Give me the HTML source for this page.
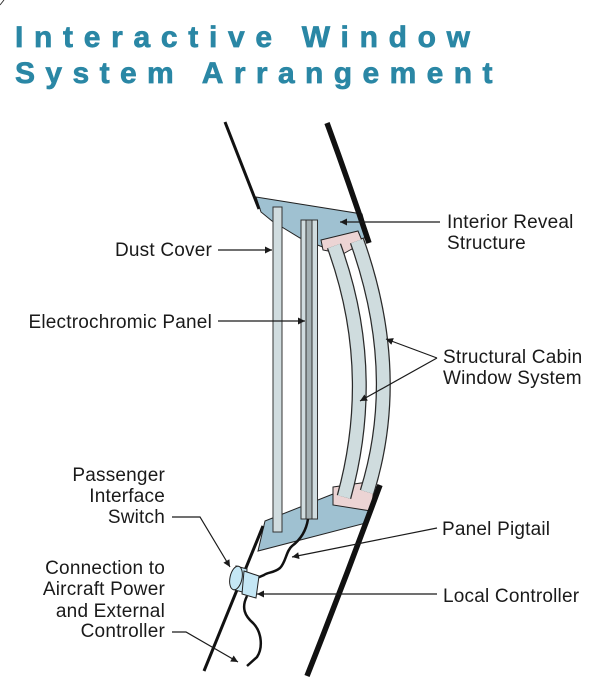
<!DOCTYPE html>
<html>
<head>
<meta charset="utf-8">
<style>
  html,body{margin:0;padding:0;background:#fff;}
  body{width:614px;height:696px;overflow:hidden;position:relative;}
  svg{position:absolute;left:0;top:0;}
  .t{font-family:"Liberation Sans",sans-serif;font-weight:bold;font-size:30px;fill:#2a87a5;stroke:#2a87a5;stroke-width:0.7px;}
  .l{font-family:"Liberation Sans",sans-serif;font-size:19px;fill:#1a1a1a;letter-spacing:0.2px;}
</style>
</head>
<body>
<svg width="614" height="696" viewBox="0 0 614 696" xmlns="http://www.w3.org/2000/svg">
  <defs>
    <marker id="ah" viewBox="0 0 10 10" refX="10" refY="5" markerWidth="9" markerHeight="7" markerUnits="userSpaceOnUse" orient="auto">
      <path d="M0,0 L10,5 L0,10 Z" fill="#1a1a1a"/>
    </marker>
  </defs>

  <!-- corner mark -->
  <line x1="0" y1="5" x2="4" y2="0" stroke="#333" stroke-width="1"/>

  <!-- Title -->
  <text class="t" x="15" y="47" style="letter-spacing:10.7px">Interactive Window</text>
  <text class="t" x="15" y="83" style="letter-spacing:10.4px">System Arrangement</text>

  <!-- top blue reveal -->
  <polygon points="256,197 362,214 368,237 325,248 300,238 272,221 261,212" fill="#9fc1d1" stroke="#222" stroke-width="1"/>
  <!-- bottom blue reveal -->
  <polygon points="265,521 333,494 377,487 366,523 258,551" fill="#9fc1d1" stroke="#222" stroke-width="1"/>

  <!-- top pink bracket -->
  <polygon points="321,240 358,231 363,243 350,250 343,254 323,250" fill="#ecd4d4" stroke="#222" stroke-width="1"/>
  <!-- bottom pink bracket -->
  <polygon points="333,487 375,481 371,511 333,505" fill="#ecd4d4" stroke="#222" stroke-width="1"/>

  <!-- curved panes -->
  <path d="M334,246 Q379,370 344,497" fill="none" stroke="#2a2a2a" stroke-width="15"/>
  <path d="M334,246 Q379,370 344,497" fill="none" stroke="#cfdcde" stroke-width="12.5"/>
  <path d="M357,241 Q404,373 367,492" fill="none" stroke="#2a2a2a" stroke-width="15"/>
  <path d="M357,241 Q404,373 367,492" fill="none" stroke="#cfdcde" stroke-width="12.5"/>

  <!-- wall lines -->
  <line x1="225" y1="122" x2="259" y2="209" stroke="#111" stroke-width="3"/>
  <path d="M327,123 Q348,180 369,243" fill="none" stroke="#111" stroke-width="5.5"/>
  <path d="M380,485 Q345,580 307,676" fill="none" stroke="#111" stroke-width="5.5"/>
  <line x1="263" y1="526" x2="204" y2="671" stroke="#111" stroke-width="3"/>

  <!-- dust cover -->
  <rect x="273" y="207" width="9" height="325" fill="#d0dcdf" stroke="#333" stroke-width="1"/>
  <!-- electrochromic panel -->
  <rect x="301" y="220" width="16.5" height="299" fill="#d0dcdf" stroke="#333" stroke-width="1"/>
  <rect x="306" y="220" width="6" height="299" fill="#a3afb2" stroke="#333" stroke-width="1"/>

  <!-- wires -->
  <path d="M308,519 C306,532 300,540 292,546 C286,551 286,562 280,568 C274,573 268,572 264,575 L257,578" fill="none" stroke="#111" stroke-width="2.5"/>
  <path d="M247,596 C241,608 245,616 253,623 C262,632 263,648 257,657 L247,666" fill="none" stroke="#111" stroke-width="2.5"/>

  <!-- local controller -->
  <path d="M236,566 L247,569 L246,593 L235,590 Z" fill="#c5e7f5" stroke="#222" stroke-width="1"/>
  <ellipse cx="236" cy="578" rx="6" ry="12" transform="rotate(12 236 578)" fill="#c5e7f5" stroke="#222" stroke-width="1"/>
  <polygon points="244,571 259,576 256,598 242,594" fill="#c5e7f5" stroke="#222" stroke-width="1"/>

  <!-- leader lines -->
  <g stroke="#1a1a1a" stroke-width="1.2" fill="none">
    <line x1="440" y1="222" x2="340" y2="222" marker-end="url(#ah)"/>
    <line x1="218" y1="250" x2="272" y2="250" marker-end="url(#ah)"/>
    <line x1="218" y1="321" x2="305" y2="321" marker-end="url(#ah)"/>
    <line x1="437" y1="358" x2="386" y2="339" marker-end="url(#ah)"/>
    <line x1="437" y1="358" x2="360" y2="401" marker-end="url(#ah)"/>
    <polyline points="172,517 200,517 230,567" marker-end="url(#ah)"/>
    <polyline points="172,632 186,632 238,662" marker-end="url(#ah)"/>
    <line x1="437" y1="528" x2="292" y2="557" marker-end="url(#ah)"/>
    <line x1="437" y1="594" x2="257" y2="594" marker-end="url(#ah)"/>
  </g>

  <!-- labels -->
  <text class="l" x="447" y="228">Interior Reveal</text>
  <text class="l" x="447" y="249">Structure</text>
  <text class="l" x="443" y="363">Structural Cabin</text>
  <text class="l" x="443" y="384">Window System</text>
  <text class="l" x="212" y="256" text-anchor="end">Dust Cover</text>
  <text class="l" x="212" y="328" text-anchor="end">Electrochromic Panel</text>
  <text class="l" x="165" y="481" text-anchor="end">Passenger</text>
  <text class="l" x="165" y="502" text-anchor="end">Interface</text>
  <text class="l" x="165" y="523" text-anchor="end">Switch</text>
  <text class="l" x="165" y="574" text-anchor="end">Connection to</text>
  <text class="l" x="165" y="595" text-anchor="end">Aircraft Power</text>
  <text class="l" x="165" y="617" text-anchor="end">and External</text>
  <text class="l" x="165" y="637" text-anchor="end">Controller</text>
  <text class="l" x="442" y="535">Panel Pigtail</text>
  <text class="l" x="443" y="602">Local Controller</text>
</svg>
</body>
</html>
